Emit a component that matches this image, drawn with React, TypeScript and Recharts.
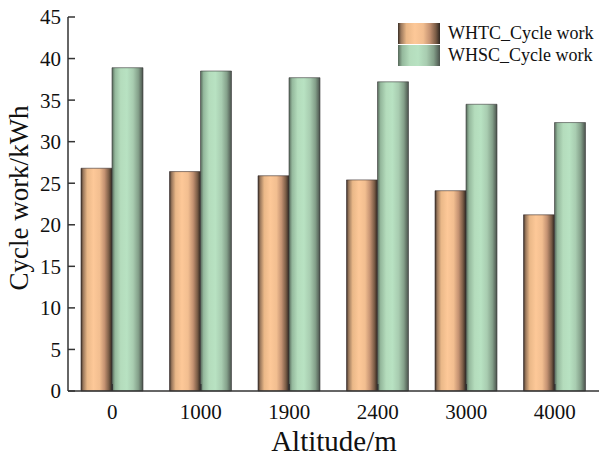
import { BarChart, Bar, XAxis, YAxis, Legend } from 'recharts';

const altitudes = ['0', '1000', '1900', '2400', '3000', '4000'];
const whtcWork = [26.8, 26.4, 25.9, 25.4, 24.1, 21.2];
const whscWork = [38.9, 38.5, 37.7, 37.2, 34.5, 32.3];
const yTicks = [0, 5, 10, 15, 20, 25, 30, 35, 40, 45];

const data = altitudes.map((alt, i) => ({ alt, whtc: whtcWork[i], whsc: whscWork[i] }));

const FONT = '"Liberation Serif", "Times New Roman", serif';
const AXIS = '#333';
const TEXT = '#111';

const orangeStops: [number, string][] = [
  [0, '#3a2e26'],
  [7, '#9a785c'],
  [20, '#eab888'],
  [40, '#fdc898'],
  [60, '#f2be90'],
  [76, '#c49272'],
  [90, '#7a5c46'],
  [100, '#2e2620'],
];
const greenStops: [number, string][] = [
  [0, '#56685a'],
  [10, '#94b89c'],
  [28, '#b4dcbc'],
  [48, '#b8e2c2'],
  [68, '#a8ccb0'],
  [85, '#84a08a'],
  [100, '#4a524c'],
];

const cssGradient = (stops: [number, string][]) =>
  `linear-gradient(to right, ${stops.map(([o, c]) => `${c} ${o}%`).join(', ')})`;

const tickStyle = { fontFamily: FONT, fontSize: 21, fill: TEXT };

function LegendBox() {
  const items = [
    { label: 'WHTC_Cycle work', bg: cssGradient(orangeStops) },
    { label: 'WHSC_Cycle work', bg: cssGradient(greenStops) },
  ];
  return (
    <div style={{ fontFamily: FONT, fontSize: 18, color: TEXT }}>
      {items.map((it) => (
        <div key={it.label} style={{ display: 'flex', alignItems: 'center', height: 22 }}>
          <span style={{ width: 42, height: 21, background: it.bg, marginRight: 8, display: 'inline-block' }} />
          <span style={{ lineHeight: '22px', whiteSpace: 'nowrap' }}>{it.label}</span>
        </div>
      ))}
    </div>
  );
}

export default function App() {
  return (
    <div style={{ position: 'absolute', left: 0, top: 0, background: '#fff' }}>
      <BarChart
        width={603}
        height={465}
        data={data}
        margin={{ top: 17, right: 4, bottom: 0, left: 0 }}
        barGap={0}
        barSize={31}
      >
        <defs>
          <linearGradient id="gOrange" x1="0" y1="0" x2="1" y2="0">
            {orangeStops.map(([o, c]) => (
              <stop key={o} offset={`${o}%`} stopColor={c} />
            ))}
          </linearGradient>
          <linearGradient id="gGreen" x1="0" y1="0" x2="1" y2="0">
            {greenStops.map(([o, c]) => (
              <stop key={o} offset={`${o}%`} stopColor={c} />
            ))}
          </linearGradient>
        </defs>
        <XAxis
          dataKey="alt"
          height={74}
          stroke={AXIS}
          strokeWidth={1.5}
          tickLine
          tickSize={-7}
          tickMargin={20}
          tick={tickStyle}
          interval={0}
          label={{
            content: () => (
              <text x={334} y={451} textAnchor="middle" fontFamily={FONT} fontSize={29} fill={TEXT}>
                Altitude/m
              </text>
            ),
          }}
        />
        <XAxis xAxisId="top" orientation="top" dataKey="alt" height={0} tick={false} tickLine={false} stroke={AXIS} strokeWidth={1.5} />
        <YAxis
          width={68}
          domain={[0, 45]}
          ticks={yTicks}
          stroke={AXIS}
          strokeWidth={1.5}
          tickLine
          tickSize={-7}
          tickMargin={14}
          tick={tickStyle}
          interval={0}
          label={{
            content: () => (
              <text
                x={28}
                y={198}
                textAnchor="middle"
                transform="rotate(-90, 28, 198)"
                fontFamily={FONT}
                fontSize={27}
                fill={TEXT}
              >
                Cycle work/kWh
              </text>
            ),
          }}
        />
        <YAxis yAxisId="right" orientation="right" width={0} domain={[0, 45]} tick={false} tickLine={false} stroke={AXIS} strokeWidth={1.5} />
        <Legend
          layout="vertical"
          align="center"
          verticalAlign="middle"
          content={<LegendBox />}
          wrapperStyle={{ top: 22, left: 398, width: 205 }}
        />
        <Bar dataKey="whtc" name="WHTC_Cycle work" fill="url(#gOrange)" stroke="#3a3030" strokeWidth={0.6} isAnimationActive={false} />
        <Bar dataKey="whsc" name="WHSC_Cycle work" fill="url(#gGreen)" stroke="#3a3a3a" strokeWidth={0.6} isAnimationActive={false} />
      </BarChart>
    </div>
  );
}
